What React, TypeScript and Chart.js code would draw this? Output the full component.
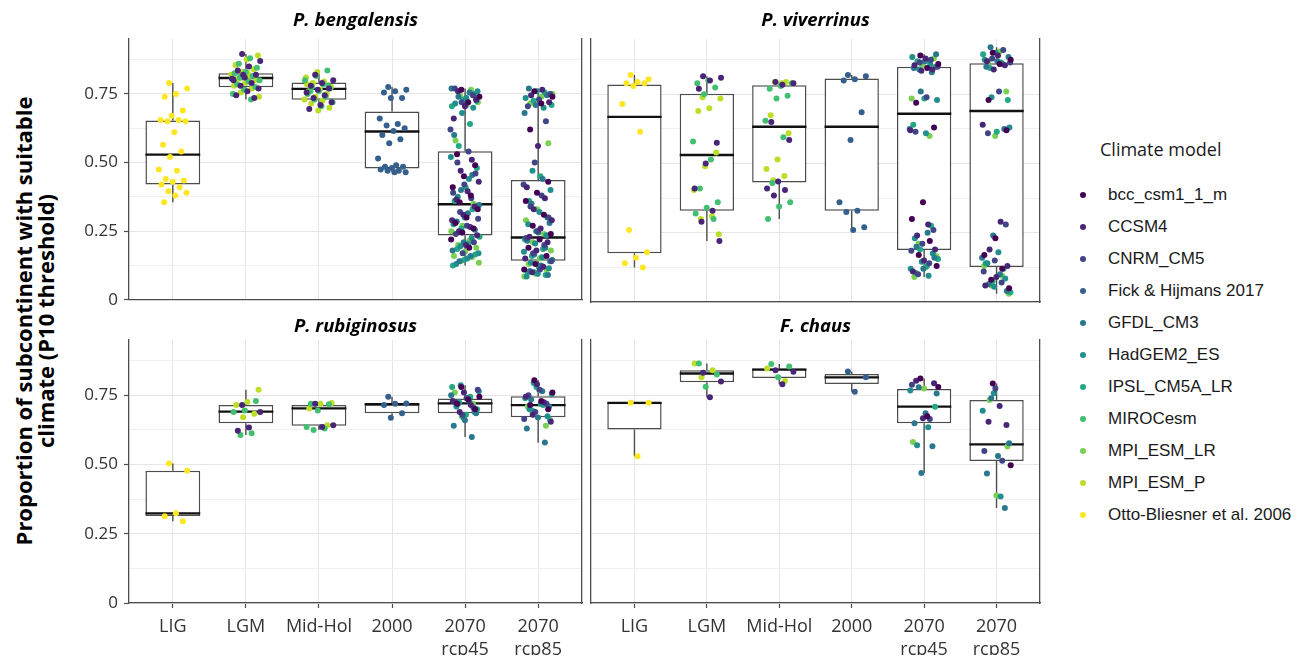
import React, { useEffect, useRef } from 'react';
import { Chart, registerables } from 'chart.js';

Chart.register(...registerables);
Chart.defaults.font.family = "'Open Sans', sans-serif";

// ---------- categories, models, ticks ----------
const CATEGORIES: string[][] = [['LIG'], ['LGM'], ['Mid-Hol'], ['2000'], ['2070', 'rcp45'], ['2070', 'rcp85']];
const MODELS = [
  'bcc_csm1_1_m', 'CCSM4', 'CNRM_CM5', 'Fick & Hijmans 2017', 'GFDL_CM3', 'HadGEM2_ES',
  'IPSL_CM5A_LR', 'MIROCesm', 'MPI_ESM_LR', 'MPI_ESM_P', 'Otto-Bliesner et al. 2006',
];
const MODEL_COLORS = [
  '#440154', '#482576', '#414487', '#35608D', '#2A788E', '#21908C',
  '#22A884', '#43BF71', '#7AD151', '#BBDF27', '#FDE725',
];
const Y_GRID = [0, 0.125, 0.25, 0.375, 0.5, 0.625, 0.75, 0.875];
const Y_TICKS = [0, 0.25, 0.5, 0.75];
const Y_TICK_LABELS = ['0', '0.25', '0.50', '0.75'];
const Y_MIN = 0;
const Y_MAX = 0.95;
const X_MIN = -0.6;
const X_MAX = 5.6;

// ---------- P. bengalensis ----------
const BEN_LO = [0.355, 0.73, 0.69, 0.465, 0.125, 0.085];
const BEN_Q1 = [0.42, 0.774, 0.729, 0.478, 0.234, 0.142];
const BEN_MED = [0.529, 0.808, 0.768, 0.613, 0.348, 0.227];
const BEN_Q3 = [0.653, 0.825, 0.792, 0.686, 0.541, 0.436];
const BEN_HI = [0.79, 0.895, 0.835, 0.775, 0.77, 0.77];
const BEN_POINTS: Record<number, number[]>[] = [
  { 10: [0.79, 0.77, 0.75, 0.74, 0.69, 0.67, 0.655, 0.655, 0.65, 0.65, 0.61, 0.565, 0.54, 0.52, 0.475, 0.47, 0.44, 0.435, 0.43, 0.42, 0.41, 0.395, 0.39, 0.38, 0.355] },
  {
    1: [0.895, 0.87, 0.85, 0.835, 0.82, 0.81, 0.8, 0.79, 0.78, 0.77, 0.76, 0.745, 0.735, 0.82, 0.805],
    7: [0.88, 0.86, 0.845, 0.83, 0.825, 0.815, 0.81, 0.8, 0.795, 0.785, 0.775, 0.765, 0.75, 0.73, 0.81],
    9: [0.89, 0.875, 0.855, 0.84, 0.83, 0.82, 0.815, 0.805, 0.8, 0.79, 0.78, 0.77, 0.755, 0.74, 0.825],
  },
  {
    1: [0.82, 0.8, 0.79, 0.78, 0.77, 0.765, 0.755, 0.745, 0.735, 0.72, 0.71, 0.695],
    7: [0.835, 0.815, 0.8, 0.785, 0.775, 0.77, 0.76, 0.75, 0.74, 0.73, 0.72, 0.705, 0.76, 0.78],
    9: [0.83, 0.81, 0.795, 0.79, 0.775, 0.765, 0.76, 0.75, 0.74, 0.73, 0.725, 0.715, 0.7, 0.69, 0.785],
  },
  { 3: [0.775, 0.765, 0.76, 0.755, 0.735, 0.735, 0.66, 0.64, 0.635, 0.625, 0.615, 0.6, 0.585, 0.57, 0.515, 0.49, 0.485, 0.485, 0.48, 0.475, 0.47, 0.47, 0.465, 0.465] },
  {
    0: [0.765, 0.74, 0.72, 0.53, 0.49, 0.45, 0.41, 0.38, 0.355, 0.33, 0.3, 0.28, 0.26, 0.245, 0.22, 0.19],
    1: [0.76, 0.73, 0.705, 0.66, 0.51, 0.47, 0.43, 0.395, 0.365, 0.34, 0.31, 0.29, 0.265, 0.25, 0.235, 0.2],
    2: [0.77, 0.745, 0.72, 0.62, 0.54, 0.5, 0.46, 0.42, 0.39, 0.37, 0.32, 0.295, 0.27, 0.24, 0.21, 0.17],
    4: [0.77, 0.755, 0.74, 0.725, 0.71, 0.6, 0.455, 0.4, 0.345, 0.315, 0.285, 0.255, 0.21, 0.18, 0.16, 0.14],
    5: [0.76, 0.735, 0.715, 0.7, 0.68, 0.52, 0.44, 0.375, 0.335, 0.3, 0.275, 0.225, 0.195, 0.17, 0.15, 0.13],
    6: [0.75, 0.73, 0.705, 0.64, 0.56, 0.48, 0.41, 0.36, 0.33, 0.26, 0.23, 0.205, 0.185, 0.165, 0.145, 0.125],
    8: [0.765, 0.745, 0.72, 0.71, 0.58, 0.35, 0.27, 0.25, 0.215, 0.2, 0.19, 0.175, 0.16, 0.155, 0.14, 0.135],
  },
  {
    0: [0.76, 0.74, 0.715, 0.62, 0.43, 0.39, 0.36, 0.31, 0.27, 0.24, 0.22, 0.19, 0.16, 0.13, 0.11],
    1: [0.765, 0.745, 0.72, 0.56, 0.41, 0.37, 0.33, 0.29, 0.26, 0.23, 0.21, 0.18, 0.15, 0.12, 0.1],
    2: [0.75, 0.73, 0.705, 0.65, 0.5, 0.42, 0.38, 0.34, 0.3, 0.25, 0.225, 0.2, 0.17, 0.14, 0.11],
    4: [0.77, 0.745, 0.71, 0.68, 0.44, 0.35, 0.28, 0.245, 0.215, 0.19, 0.165, 0.145, 0.125, 0.105, 0.09],
    5: [0.76, 0.735, 0.7, 0.47, 0.4, 0.32, 0.275, 0.235, 0.205, 0.175, 0.155, 0.135, 0.115, 0.095, 0.085],
    6: [0.755, 0.725, 0.71, 0.45, 0.36, 0.3, 0.25, 0.22, 0.185, 0.16, 0.14, 0.12, 0.1, 0.09, 0.1],
    8: [0.75, 0.74, 0.715, 0.57, 0.33, 0.29, 0.24, 0.21, 0.18, 0.15, 0.13, 0.11, 0.095, 0.085, 0.12],
  },
];

// ---------- P. viverrinus ----------
const VIV_LO = [0.125, 0.22, 0.3, 0.26, 0.09, 0.03];
const VIV_Q1 = [0.176, 0.33, 0.432, 0.33, 0.188, 0.126];
const VIV_MED = [0.669, 0.531, 0.633, 0.633, 0.68, 0.69];
const VIV_Q3 = [0.786, 0.752, 0.783, 0.807, 0.85, 0.862];
const VIV_HI = [0.82, 0.815, 0.795, 0.82, 0.895, 0.92];
const VIV_POINTS: Record<number, number[]>[] = [
  { 10: [0.82, 0.805, 0.795, 0.79, 0.79, 0.78, 0.715, 0.615, 0.26, 0.18, 0.16, 0.14, 0.125] },
  {
    1: [0.815, 0.81, 0.8, 0.77, 0.575, 0.5, 0.41, 0.33, 0.29, 0.22],
    7: [0.8, 0.79, 0.775, 0.75, 0.58, 0.515, 0.41, 0.36, 0.34, 0.32, 0.3],
    9: [0.74, 0.735, 0.7, 0.69, 0.54, 0.49, 0.405, 0.31, 0.3, 0.245],
  },
  {
    1: [0.795, 0.79, 0.785, 0.65, 0.585, 0.435, 0.41, 0.405, 0.385],
    7: [0.79, 0.78, 0.77, 0.745, 0.735, 0.655, 0.595, 0.43, 0.36, 0.345, 0.3],
    9: [0.795, 0.795, 0.79, 0.79, 0.675, 0.61, 0.515, 0.48, 0.455, 0.44],
  },
  { 3: [0.82, 0.815, 0.805, 0.8, 0.685, 0.585, 0.36, 0.33, 0.325, 0.27, 0.26] },
  {
    0: [0.89, 0.86, 0.845, 0.72, 0.63, 0.36, 0.3, 0.22, 0.17, 0.13],
    1: [0.88, 0.855, 0.84, 0.835, 0.62, 0.28, 0.24, 0.19, 0.15, 0.11],
    2: [0.875, 0.865, 0.85, 0.74, 0.615, 0.26, 0.21, 0.185, 0.14, 0.1],
    4: [0.895, 0.87, 0.845, 0.83, 0.76, 0.625, 0.25, 0.2, 0.16, 0.12],
    5: [0.885, 0.86, 0.84, 0.73, 0.61, 0.23, 0.175, 0.145, 0.12, 0.095],
    6: [0.87, 0.85, 0.735, 0.64, 0.275, 0.19, 0.155, 0.13, 0.105],
    8: [0.88, 0.855, 0.735, 0.6, 0.21, 0.165, 0.125, 0.09],
  },
  {
    0: [0.9, 0.875, 0.86, 0.73, 0.62, 0.23, 0.17, 0.12, 0.08, 0.05],
    1: [0.89, 0.87, 0.855, 0.84, 0.64, 0.29, 0.19, 0.13, 0.09, 0.06],
    2: [0.91, 0.88, 0.865, 0.76, 0.61, 0.28, 0.15, 0.11, 0.07],
    4: [0.92, 0.885, 0.87, 0.85, 0.625, 0.24, 0.16, 0.1, 0.065, 0.04],
    5: [0.9, 0.875, 0.86, 0.74, 0.63, 0.18, 0.14, 0.085, 0.055],
    6: [0.895, 0.865, 0.845, 0.73, 0.615, 0.14, 0.12, 0.075, 0.035],
    8: [0.905, 0.87, 0.76, 0.6, 0.13, 0.095, 0.06, 0.03],
  },
];

// ---------- P. rubiginosus ----------
const RUB_LO = [0.295, 0.607, 0.625, 0.669, 0.6, 0.579];
const RUB_Q1 = [0.314, 0.649, 0.64, 0.685, 0.685, 0.671];
const RUB_MED = [0.324, 0.691, 0.703, 0.718, 0.721, 0.715];
const RUB_Q3 = [0.478, 0.715, 0.715, 0.718, 0.739, 0.747];
const RUB_HI = [0.504, 0.77, 0.722, 0.745, 0.787, 0.805];
const RUB_POINTS: Record<number, number[]>[] = [
  { 10: [0.504, 0.478, 0.324, 0.313, 0.295] },
  { 1: [0.715, 0.69, 0.634, 0.622], 7: [0.73, 0.695, 0.69, 0.613, 0.607], 9: [0.77, 0.726, 0.715, 0.684, 0.671] },
  { 1: [0.72, 0.642, 0.636], 7: [0.72, 0.718, 0.695, 0.636, 0.63, 0.625], 9: [0.722, 0.72, 0.703, 0.642] },
  { 3: [0.745, 0.721, 0.72, 0.715, 0.685, 0.669] },
  {
    0: [0.78, 0.745, 0.735, 0.72, 0.7],
    1: [0.76, 0.73, 0.715, 0.69],
    2: [0.77, 0.74, 0.725, 0.705, 0.68],
    4: [0.75, 0.73, 0.72, 0.685, 0.66, 0.64, 0.6],
    5: [0.787, 0.765, 0.74, 0.71, 0.69, 0.67],
    6: [0.78, 0.745, 0.725, 0.7, 0.68],
    8: [0.76, 0.72, 0.675],
  },
  {
    0: [0.805, 0.76, 0.73, 0.715, 0.7],
    1: [0.79, 0.745, 0.725, 0.68, 0.655],
    2: [0.77, 0.75, 0.72, 0.69, 0.665],
    4: [0.765, 0.735, 0.71, 0.67, 0.63, 0.58],
    5: [0.795, 0.755, 0.72, 0.7, 0.675],
    6: [0.78, 0.74, 0.715, 0.695, 0.66],
    8: [0.77, 0.71, 0.64],
  },
];

// ---------- F. chaus ----------
const CHA_LO = [0.53, 0.743, 0.79, 0.763, 0.47, 0.343];
const CHA_Q1 = [0.627, 0.797, 0.813, 0.791, 0.649, 0.513];
const CHA_MED = [0.723, 0.829, 0.843, 0.815, 0.709, 0.573];
const CHA_Q3 = [0.723, 0.841, 0.847, 0.827, 0.773, 0.733];
const CHA_HI = [0.723, 0.865, 0.863, 0.836, 0.811, 0.793];
const CHA_POINTS: Record<number, number[]>[] = [
  { 10: [0.723, 0.723, 0.53] },
  { 1: [0.832, 0.8, 0.743], 7: [0.865, 0.825, 0.781], 9: [0.865, 0.841, 0.815] },
  { 1: [0.841, 0.835, 0.79], 7: [0.863, 0.854, 0.815], 9: [0.847, 0.802] },
  { 3: [0.836, 0.815, 0.763] },
  {
    0: [0.811, 0.78, 0.675],
    1: [0.803, 0.794, 0.667],
    2: [0.788, 0.665],
    4: [0.779, 0.757, 0.685, 0.649, 0.566, 0.47],
    5: [0.768, 0.635, 0.57],
    6: [0.709],
    8: [0.775, 0.582],
  },
  {
    0: [0.793, 0.498],
    1: [0.712, 0.655, 0.643],
    2: [0.775, 0.549, 0.514],
    4: [0.74, 0.577, 0.531, 0.468, 0.343],
    5: [0.758, 0.694, 0.385],
    8: [0.733, 0.565, 0.388],
  },
];

// ---------- styling ----------
const AXIS_COLOR = '#4d4d4d';
const BOX_COLOR = '#4d4d4d';
const MEDIAN_COLOR = '#111111';
const GRID_MAJOR = '#e6e6e6';
const GRID_MINOR = '#f0f0f0';
const TEXT_COLOR = '#333333';
const JITTER = 0.2;

type PanelSpec = {
  title: string;
  lo: number[]; q1: number[]; med: number[]; q3: number[]; hi: number[];
  points: Record<number, number[]>[];
  yLabels: boolean; xLabels: boolean;
  left: number; top: number; w: number; h: number;
  titleTop: number; titleBottom: number; padBottom: number;
};

const PANELS: PanelSpec[] = [
  { title: 'P. bengalensis', lo: BEN_LO, q1: BEN_Q1, med: BEN_MED, q3: BEN_Q3, hi: BEN_HI, points: BEN_POINTS,
    yLabels: true, xLabels: false, left: 69, top: 0, w: 573, h: 316, titleTop: 11, titleBottom: 8, padBottom: 14 },
  { title: 'P. viverrinus', lo: VIV_LO, q1: VIV_Q1, med: VIV_MED, q3: VIV_Q3, hi: VIV_HI, points: VIV_POINTS,
    yLabels: false, xLabels: false, left: 587, top: 0, w: 457, h: 316, titleTop: 11, titleBottom: 8, padBottom: 14 },
  { title: 'P. rubiginosus', lo: RUB_LO, q1: RUB_Q1, med: RUB_MED, q3: RUB_Q3, hi: RUB_HI, points: RUB_POINTS,
    yLabels: true, xLabels: true, left: 69, top: 306, w: 573, h: 356, titleTop: 11, titleBottom: 3, padBottom: 7 },
  { title: 'F. chaus', lo: CHA_LO, q1: CHA_Q1, med: CHA_MED, q3: CHA_Q3, hi: CHA_HI, points: CHA_POINTS,
    yLabels: false, xLabels: true, left: 587, top: 306, w: 457, h: 356, titleTop: 11, titleBottom: 3, padBottom: 7 },
];

const boxWhiskerPlugin = {
  id: 'boxWhisker',
  afterDatasetDraw(chart: any, args: any) {
    const ds: any = chart.data.datasets[args.index];
    if (!ds.boxStats) return;
    const st = ds.boxStats;
    const ys = chart.scales.y;
    const ctx = chart.ctx;
    ctx.save();
    args.meta.data.forEach((bar: any, i: number) => {
      const x = bar.x;
      const w = bar.width;
      ctx.strokeStyle = BOX_COLOR;
      ctx.lineWidth = 1.4;
      ctx.beginPath();
      ctx.moveTo(x, ys.getPixelForValue(st.q3[i]));
      ctx.lineTo(x, ys.getPixelForValue(st.hi[i]));
      ctx.moveTo(x, ys.getPixelForValue(st.q1[i]));
      ctx.lineTo(x, ys.getPixelForValue(st.lo[i]));
      ctx.stroke();
      const ym = ys.getPixelForValue(st.med[i]);
      ctx.strokeStyle = MEDIAN_COLOR;
      ctx.lineWidth = 2.3;
      ctx.beginPath();
      ctx.moveTo(x - w / 2, ym);
      ctx.lineTo(x + w / 2, ym);
      ctx.stroke();
    });
    ctx.restore();
  },
};

function buildConfig(p: PanelSpec): any {
  const datasets: any[] = [
    {
      type: 'bar',
      label: 'box',
      data: CATEGORIES.map((_, i) => ({ x: i, y: [p.q1[i], p.q3[i]] })),
      backgroundColor: '#ffffff',
      borderColor: BOX_COLOR,
      borderWidth: 1.5,
      borderSkipped: false,
      barPercentage: 0.75,
      categoryPercentage: 1,
      order: 2,
      boxStats: { lo: p.lo, q1: p.q1, med: p.med, q3: p.q3, hi: p.hi },
    },
  ];
  const byModel = new Map<number, { x: number; y: number }[]>();
  p.points.forEach((group, ci) => {
    let k = 0;
    Object.keys(group).map(Number).forEach((m) => {
      group[m].forEach((v) => {
        const off = (((k * 0.6180339887 + 0.37) % 1) - 0.5) * 2 * JITTER;
        k += 1;
        if (!byModel.has(m)) byModel.set(m, []);
        byModel.get(m)!.push({ x: ci + off, y: v });
      });
    });
  });
  [...byModel.keys()].sort((a, b) => a - b).forEach((m) => {
    datasets.push({
      type: 'scatter',
      label: MODELS[m],
      data: byModel.get(m),
      backgroundColor: MODEL_COLORS[m],
      borderWidth: 0,
      pointRadius: 3,
      order: 0,
    });
  });
  const sideW = p.yLabels ? 60 : 2;
  return {
    type: 'bar',
    data: { datasets },
    plugins: [boxWhiskerPlugin],
    options: {
      animation: false,
      responsive: false,
      maintainAspectRatio: false,
      devicePixelRatio: 1,
      events: [],
      layout: { padding: { top: 0, left: 0, right: 0, bottom: p.padBottom } },
      plugins: {
        legend: { display: false },
        tooltip: { enabled: false },
        title: {
          display: true,
          text: p.title,
          color: '#000000',
          font: { size: 18.5, weight: 'bold', style: 'italic', lineHeight: '20px' },
          padding: { top: p.titleTop, bottom: p.titleBottom },
        },
      },
      scales: {
        x: {
          type: 'linear',
          offset: false,
          min: X_MIN,
          max: X_MAX,
          afterBuildTicks: (s: any) => { s.ticks = CATEGORIES.map((_, i) => ({ value: i })); },
          afterFit: (s: any) => { s.height = p.xLabels ? 52 : 0; },
          grid: { offset: false, color: GRID_MAJOR, lineWidth: 1, drawTicks: p.xLabels, tickLength: 5, tickColor: AXIS_COLOR, tickWidth: 1.2 },
          border: { display: true, color: AXIS_COLOR, width: 1.3 },
          ticks: {
            display: p.xLabels,
            autoSkip: false,
            maxRotation: 0,
            padding: 7,
            color: TEXT_COLOR,
            font: { size: 18, lineHeight: 1.28 },
            callback: (v: number) => CATEGORIES[v] ?? '',
          },
        },
        y: {
          type: 'linear',
          min: Y_MIN,
          max: Y_MAX,
          afterBuildTicks: (s: any) => { s.ticks = Y_GRID.map((v) => ({ value: v })); },
          afterFit: (s: any) => { s.width = sideW; },
          grid: {
            color: (c: any) => (c.tick && Y_TICKS.includes(c.tick.value) ? GRID_MAJOR : GRID_MINOR),
            lineWidth: 1,
            drawTicks: p.yLabels,
            tickLength: 5,
            tickWidth: 1.2,
            tickColor: (c: any) => (c.tick && Y_TICKS.includes(c.tick.value) ? AXIS_COLOR : 'rgba(0,0,0,0)'),
          },
          border: { display: true, color: AXIS_COLOR, width: 1.3 },
          ticks: {
            display: p.yLabels,
            padding: 6,
            color: TEXT_COLOR,
            font: { size: 17 },
            callback: (v: number) => {
              const k = Y_TICKS.indexOf(v);
              return k >= 0 ? Y_TICK_LABELS[k] : '';
            },
          },
        },
        yr: {
          type: 'linear',
          position: 'right',
          min: 0,
          max: 1,
          afterFit: (s: any) => { s.width = sideW; },
          grid: { display: false, drawTicks: false },
          border: { display: true, color: AXIS_COLOR, width: 1.3 },
          ticks: { display: false },
        },
      },
    },
  };
}

function Panel({ spec }: { spec: PanelSpec }) {
  const ref = useRef<HTMLCanvasElement>(null);
  useEffect(() => {
    const chart = new Chart(ref.current as HTMLCanvasElement, buildConfig(spec));
    return () => chart.destroy();
  }, [spec]);
  return (
    <canvas
      ref={ref}
      width={spec.w}
      height={spec.h}
      style={{ position: 'absolute', left: spec.left, top: spec.top, width: spec.w, height: spec.h }}
    />
  );
}

export default function App() {
  return (
    <div style={{ position: 'absolute', left: 0, top: 0, width: 1309, height: 662, overflow: 'hidden', background: '#ffffff' }}>
      {PANELS.map((p) => (
        <Panel key={p.title} spec={p} />
      ))}
      <div
        style={{
          position: 'absolute', left: 36 - 280, top: 321 - 24, width: 560, height: 48,
          transform: 'rotate(-90deg)', textAlign: 'center', lineHeight: '22px',
          fontFamily: "'Open Sans', sans-serif", fontWeight: 700, fontSize: 22, color: '#000000',
          whiteSpace: 'nowrap',
        }}
      >
        Proportion of subcontinent with suitable
        <br />
        climate (P10 threshold)
      </div>
      <div
        style={{
          position: 'absolute', left: 1100, top: 137, fontFamily: "'Open Sans', sans-serif",
          fontSize: 18, color: '#1a1a1a', whiteSpace: 'nowrap',
        }}
      >
        Climate model
      </div>
      {MODELS.map((m, i) => (
        <div
          key={m}
          style={{
            position: 'absolute', left: 1080, top: 195 + 32 * i - 11, height: 22, display: 'flex', alignItems: 'center',
            fontFamily: "'Liberation Sans', Arial, sans-serif", fontSize: 17, color: '#1a1a1a', whiteSpace: 'nowrap',
          }}
        >
          <span style={{ display: 'inline-block', width: 6, height: 6, borderRadius: 3, background: MODEL_COLORS[i], marginRight: 22 }} />
          {m}
        </div>
      ))}
    </div>
  );
}
